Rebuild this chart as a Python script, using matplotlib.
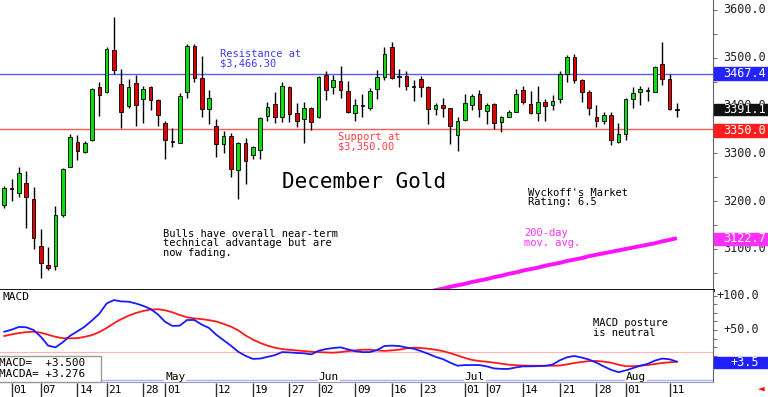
import numpy as np
import matplotlib
matplotlib.use("Agg")
import matplotlib.pyplot as plt
from matplotlib.patches import Rectangle
from matplotlib.transforms import blended_transform_factory

# December gold daily bars, index 0 = Mar 31 ... index 92 = Aug 12
opens = [3192, 3228, 3218, 3239, 3205, 3106, 3066, 3065, 3171, 3272,
         3323, 3302, 3327, 3438, 3429, 3516, 3445, 3399, 3448, 3413,
         3439, 3412, 3363, 3326, 3322, 3429, 3525, 3458, 3393, 3357,
         3320, 3337, 3265, 3322, 3297, 3307, 3379, 3403, 3377, 3438,
         3384, 3371, 3394, 3376, 3463, 3438, 3452, 3431, 3385, 3402,
         3396, 3434, 3460, 3523, 3460, 3462, 3441, 3456, 3438, 3393,
         3401, 3394, 3338, 3370, 3401, 3424, 3389, 3403, 3366, 3377,
         3387, 3433, 3403, 3384, 3408, 3401, 3413, 3466, 3502, 3454,
         3428, 3377, 3368, 3380, 3324, 3341, 3414, 3428, 3433, 3429,
         3486, 3456, 3392]
highs = [3232, 3246, 3272, 3264, 3229, 3141, 3105, 3190, 3270, 3341,
         3338, 3325, 3437, 3449, 3523, 3585, 3476, 3455, 3463, 3442,
         3441, 3414, 3367, 3353, 3426, 3528, 3528, 3504, 3433, 3371,
         3347, 3342, 3324, 3332, 3315, 3377, 3408, 3428, 3449, 3441,
         3405, 3408, 3398, 3462, 3473, 3463, 3483, 3452, 3413, 3424,
         3436, 3474, 3523, 3532, 3476, 3473, 3454, 3462, 3440, 3406,
         3415, 3396, 3376, 3424, 3424, 3433, 3406, 3406, 3378, 3391,
         3434, 3442, 3430, 3440, 3414, 3422, 3473, 3506, 3508, 3455,
         3433, 3401, 3387, 3387, 3364, 3415, 3438, 3442, 3438, 3483,
         3533, 3466, 3406]
lows = [3185, 3200, 3209, 3143, 3101, 3039, 3057, 3056, 3166, 3271,
        3286, 3300, 3325, 3378, 3427, 3466, 3353, 3396, 3357, 3363,
        3391, 3357, 3288, 3314, 3321, 3415, 3450, 3377, 3361, 3293,
        3301, 3250, 3205, 3236, 3288, 3288, 3368, 3363, 3366, 3366,
        3356, 3322, 3348, 3373, 3412, 3424, 3415, 3385, 3368, 3376,
        3391, 3413, 3454, 3456, 3438, 3433, 3410, 3417, 3361, 3380,
        3377, 3320, 3306, 3368, 3391, 3376, 3361, 3350, 3345, 3376,
        3386, 3403, 3382, 3368, 3368, 3391, 3405, 3450, 3447, 3408,
        3380, 3355, 3361, 3318, 3322, 3329, 3396, 3401, 3410, 3428,
        3443, 3391, 3377]
closes = [3227, 3225, 3260, 3208, 3124, 3070, 3061, 3171, 3268, 3334,
          3306, 3322, 3435, 3422, 3518, 3474, 3387, 3438, 3401, 3434,
          3412, 3380, 3327, 3324, 3420, 3525, 3458, 3393, 3415, 3320,
          3336, 3267, 3322, 3285, 3313, 3373, 3398, 3376, 3440, 3382,
          3368, 3394, 3366, 3459, 3433, 3454, 3433, 3386, 3401, 3400,
          3431, 3460, 3508, 3458, 3462, 3441, 3439, 3438, 3392, 3401,
          3396, 3357, 3368, 3405, 3420, 3392, 3401, 3363, 3376, 3386,
          3424, 3407, 3384, 3408, 3399, 3410, 3466, 3501, 3454, 3428,
          3394, 3368, 3380, 3327, 3340, 3414, 3426, 3434, 3431, 3481,
          3456, 3392, 3391.1]

# 200-day moving average, visible part only (from bar 57 on)
ma_start = 57
ma200 = [3007, 3010, 3014, 3017, 3021, 3024, 3027, 3031, 3034, 3037,
         3041, 3044, 3048, 3051, 3055, 3058, 3061, 3065, 3068, 3071,
         3075, 3078, 3081, 3085, 3088, 3091, 3094, 3097, 3100, 3103,
         3106, 3109, 3112, 3116, 3119, 3122.7]

macd = [47.5, 50.5, 54.5, 54, 50, 40, 27, 24.5, 32, 41.5,
        48, 55, 64, 74, 89, 94, 92, 91.6, 89, 85.5,
        81, 73, 62, 56, 56.4, 64.7, 64.7, 58, 53, 43,
        35, 27, 18, 12, 7.5, 8, 10.5, 13, 17.5, 17,
        16.3, 15.7, 14.2, 19.5, 22, 23.5, 24.5, 21.5, 18.8, 17.5,
        17.5, 20.5, 26.5, 27, 26.5, 24.3, 22.5, 19, 15, 10.5,
        7.2, 2, -2.5, -1.6, -1.5, -1.5, -3.5, -6.5, -7.2, -7.2,
        -5, -3.4, -3.4, -3.1, -2.7, -0.8, 5.5, 10, 11.8, 9.5,
        6.5, 2, -3.5, -8.5, -12, -9.5, -6, -2.5, 0.2, 5,
        8, 7, 3.5]
macda = [41.2, 43.5, 45.5, 46.8, 47.5, 46, 43, 40, 38, 37.8,
         38, 40, 42.5, 47, 53, 60, 66, 71, 75, 78,
         80, 80.5, 79, 76, 72, 68.7, 67, 66, 64.5, 62.5,
         59, 55, 49.5, 42, 36, 31, 27, 24, 22, 20.8,
         20, 19, 18.1, 17.5, 17, 16.6, 17.5, 19, 20.1, 21,
         21, 20, 19.3, 20, 21, 23, 24, 23.5, 22.5, 21,
         19, 16, 12.5, 9, 6, 4.3, 3.4, 2, 0.5, -1,
         -1.8, -2.3, -2.5, -2.5, -2.5, -2.5, -2.2, -0.5, 1.5, 3,
         4.3, 4.5, 3.5, 2, -1, -3.2, -3.2, -2.5, -1.5, 0,
         1.5, 2.5, 3.276]
macd_ref = 18

tick_idx = [1, 5, 10, 14, 19, 22, 29, 34, 39, 43, 48, 53, 57, 63, 66, 71, 76, 81, 85, 91]
tick_lbl = ['01', '07', '14', '21', '28', '01', '12', '19', '27', '02',
            '09', '16', '23', '01', '07', '14', '21', '28', '01', '11']
month_idx = [22, 43, 63, 85]
month_lbl = ['May', 'Jun', 'Jul', 'Aug']

resistance = 3466.30
support = 3350.00
price_labels = [3100, 3200, 3300, 3400, 3500, 3600]

GREEN = '#10dd10'
RED = '#e00000'
MONO = 'DejaVu Sans Mono'
plt.rcParams['font.family'] = MONO

W, H = 768, 397
fig = plt.figure(figsize=(W / 100, H / 100), dpi=100)


def px_axes(x0, y0, x1, y1):
    return fig.add_axes([x0 / W, 1 - y1 / H, (x1 - x0) / W, (y1 - y0) / H])


ax = px_axes(0, 0, 713, 290)
axm = px_axes(0, 290, 713, 381.7)
axd = px_axes(0, 381.7, 713, 397)
xlim = (-0.59, 96.95)

# ---- price panel
n = len(closes)
idx = np.arange(n)
up = [c >= o for o, c in zip(opens, closes)]
ax.vlines(idx, lows, highs, color='black', lw=1, zorder=2)
ax.bar(idx, [max(abs(c - o), 1.5) for o, c in zip(opens, closes)],
       bottom=[min(o, c) for o, c in zip(opens, closes)], width=0.5,
       color=[GREEN if u else RED for u in up], edgecolor='black', lw=0.6, zorder=3)
ax.axhline(resistance, color='#5a5aff', lw=1, zorder=1)
ax.axhline(support, color='#ff5a5a', lw=1, zorder=1)
ax.plot(np.arange(ma_start, ma_start + len(ma200)), ma200, color='#ff10ff', lw=2.8,
        solid_capstyle='butt', zorder=2)

ax.set_xlim(*xlim)
ax.set_ylim(3014.2, 3620.9)
for s in ['top', 'left']:
    ax.spines[s].set_visible(False)
ax.spines['right'].set_color('#666666')
ax.spines['bottom'].set_linewidth(2)
ax.set_xticks([])
ax.yaxis.set_ticks_position('right')
ax.set_yticks(np.arange(3050, 3601, 50))
ax.tick_params(axis='y', direction='out', length=3, color='#777777', labelright=False)

tr = blended_transform_factory(ax.transAxes, ax.transData)
for p in price_labels:
    ax.text(1.0136, p, f'{p:.1f}', transform=tr, ha='left', va='center', fontsize=8.5,
            color='#222222', clip_on=False)


def tag(axis, y, text, color, height, right=None):
    t = blended_transform_factory(axis.transAxes, axis.transData)
    axis.add_patch(Rectangle((1.001, y - height / 2), 0.08, height, transform=t,
                             color=color, clip_on=False, zorder=5))
    if right is None:
        axis.text(1.0136, y, text, transform=t, ha='left', va='center', fontsize=8.5,
                  color='white', clip_on=False, zorder=6)
    else:
        axis.text(right, y, text, transform=t, ha='right', va='center', fontsize=8.5,
                  color='white', clip_on=False, zorder=6)


tag(ax, 3466.9, '3467.4', '#2424ff', 26.5)
tag(ax, 3391.8, '3391.1', '#111111', 23)
tag(ax, 3348.5, '3350.0', '#ff1e1e', 26.5)
tag(ax, 3121.0, '3122.7', '#ff30ff', 25)

ax.text(29.5, 3497.5, 'Resistance at\n$3,466.30', color='#3c3cff', fontsize=7.5,
        va='center', linespacing=0.95)
ax.text(45.7, 3324, 'Support at\n$3,350.00', color='#ff4040', fontsize=7.5,
        va='center', linespacing=0.95)
ax.text(38.0, 3241, 'December Gold', fontsize=15, va='center')
ax.text(21.7, 3111.5, 'Bulls have overall near-term\ntechnical advantage but are\nnow fading.',
        fontsize=7.5, va='center', linespacing=0.95)
ax.text(71.7, 3208, "Wyckoff's Market\nRating: 6.5", fontsize=7.5, va='center', linespacing=0.95)
ax.text(71.1, 3123, '200-day\nmov. avg.', color='#ff30ff', fontsize=7.5, va='center',
        linespacing=0.95)

# ---- MACD panel
axm.axhline(macd_ref, color='#ffb4b4', lw=0.8, zorder=1)
axm.plot(idx, macda, color='#ff1a1a', lw=1.3, zorder=3)
axm.plot(idx, macd, color='#1a1aff', lw=1.3, zorder=3)
axm.set_xlim(*xlim)
axm.set_ylim(-26, 108.8)
for s in ['top', 'left']:
    axm.spines[s].set_visible(False)
axm.spines['right'].set_color('#666666')
axm.spines['bottom'].set_color('#9a9ab0')
axm.set_xticks([])
axm.yaxis.set_ticks_position('right')
axm.set_yticks(np.arange(0, 101, 12.5))
axm.tick_params(axis='y', direction='out', length=3, color='#777777', labelright=False)
trm = blended_transform_factory(axm.transAxes, axm.transData)
for v in [100, 50]:
    axm.text(1.0645, v, f'+{v:.1f}', transform=trm, ha='right', va='center', fontsize=8.5,
             color='#222222', clip_on=False)
tag(axm, 2.5, '+3.5', '#2020ff', 17, right=1.0645)

axm.text(-0.3, 98, 'MACD', fontsize=8, va='center')
axm.text(80.5, 53.2, 'MACD posture\nis neutral', fontsize=7.5, va='center', linespacing=0.95)

axm.axhline(-22.8, xmin=0.1417, xmax=1, color='#aab0ff', lw=1, zorder=1)
for i, m in zip(month_idx, month_lbl):
    axm.text(i, -18.5, m, fontsize=8, va='center', ha='left',
             bbox=dict(facecolor='white', edgecolor='none', pad=0.5), zorder=4)

axm.add_patch(Rectangle((-0.01, 0), 0.1517, 0.28, transform=axm.transAxes, facecolor='white',
                        edgecolor='#999999', lw=1, zorder=5, clip_on=False))
axm.text(-0.002, 0.205, 'MACD=  +3.500', transform=axm.transAxes, fontsize=7.9,
         va='center', zorder=6)
axm.text(-0.002, 0.08, 'MACDA= +3.276', transform=axm.transAxes, fontsize=7.9,
         va='center', zorder=6)

# ---- date band
axd.set_xlim(*xlim)
axd.set_ylim(0, 1)
axd.axis('off')
axd.vlines(tick_idx, 0.02, 0.9, color='#333333', lw=1)
for i, lbl in zip(tick_idx, tick_lbl):
    axd.text(i + 0.25, 0.49, lbl, fontsize=8, va='center', ha='left')

fig.text(761 / W, 1 - 390 / H, '\u25c4', color='red', fontsize=8, ha='center', va='center')

fig.savefig('out.png', dpi=100)
